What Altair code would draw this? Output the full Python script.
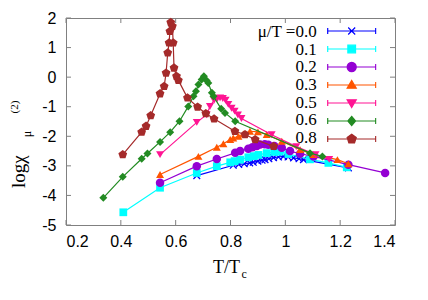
import math
import altair as alt
import pandas as pd

labels = ["μ/T =0.0", "0.1", "0.2", "0.3", "0.5", "0.6", "0.8"]
colors = ["#0000ff", "#00ffff", "#9400d3", "#ff5500", "#ff1493", "#228b22", "#a52a2a"]

t_00 = [0.677, 0.81, 0.83, 0.85, 0.87, 0.883, 0.9, 0.915, 0.926, 0.94, 0.957, 0.975, 0.993, 1.01, 1.03, 1.05, 1.066, 1.23]
v_00 = [-3.33, -2.98, -2.95, -2.93, -2.9, -2.88, -2.84, -2.81, -2.79, -2.76, -2.72, -2.7, -2.68, -2.7, -2.73, -2.76, -2.79, -3.07]

t_01 = [0.409, 0.543, 0.677, 0.75, 0.799, 0.815, 0.835, 0.865, 0.885, 0.902, 0.932, 0.96, 0.98, 1.011, 1.09, 1.157, 1.224]
v_01 = [-4.57, -3.74, -3.24, -3.01, -2.88, -2.84, -2.79, -2.71, -2.67, -2.63, -2.57, -2.53, -2.52, -2.6, -2.78, -2.9, -3.05]

t_02 = [0.543, 0.677, 0.75, 0.817, 0.835, 0.865, 0.88, 0.896, 0.908, 0.925, 0.938, 0.96, 0.987, 1.017, 1.054, 1.103, 1.23, 1.364]
v_02 = [-3.57, -3.01, -2.77, -2.56, -2.5, -2.42, -2.37, -2.33, -2.28, -2.27, -2.29, -2.33, -2.39, -2.5, -2.59, -2.68, -2.96, -3.24]

t_03 = [0.543, 0.683, 0.75, 0.774, 0.799, 0.81, 0.829, 0.847, 0.871, 0.9, 0.932, 0.987, 1.054, 1.103, 1.19, 1.23]
v_03 = [-3.29, -2.68, -2.37, -2.25, -2.11, -2.06, -2.0, -1.92, -1.83, -1.85, -1.94, -2.17, -2.45, -2.62, -2.79, -2.93]

t_05 = [0.543, 0.677, 0.713, 0.725, 0.74, 0.752, 0.762, 0.772, 0.782, 0.792, 0.804, 0.815, 0.827, 0.84, 0.95, 1.04, 1.11, 1.16]
v_05 = [-2.62, -1.53, -1.27, -0.99, -0.78, -0.72, -0.70, -0.72, -0.78, -0.92, -1.05, -1.15, -1.28, -1.40, -1.95, -2.35, -2.62, -2.78]

t_06 = [0.336, 0.407, 0.476, 0.497, 0.543, 0.58, 0.614, 0.646, 0.665, 0.674, 0.683, 0.695, 0.703, 0.713, 0.719, 0.732, 0.738, 0.766, 0.78, 0.817, 1.09, 1.135]
v_06 = [-4.08, -3.37, -2.76, -2.58, -2.19, -1.86, -1.49, -0.99, -0.65, -0.48, -0.25, -0.08, 0.03, -0.11, -0.2, -0.53, -0.65, -1.07, -1.21, -1.49, -2.57, -2.68]

t_08 = [0.407, 0.476, 0.492, 0.509, 0.543, 0.558, 0.565, 0.571, 0.576, 0.579, 0.582, 0.588, 0.591, 0.594, 0.603, 0.61, 0.643, 0.68, 0.71, 0.74, 0.816, 0.853, 0.89, 0.957]
v_08 = [-2.62, -1.86, -1.66, -1.30, -0.56, -0.31, 0.14, 0.82, 1.16, 1.55, 1.85, 1.72, 1.16, 0.31, 0.03, -0.11, -0.70, -1.01, -1.23, -1.41, -1.83, -1.94, -2.11, -2.34]

x_ticks = [0.2, 0.4, 0.6, 0.8, 1.0, 1.2, 1.4]
y_ticks = [2, 1, 0, -1, -2, -3, -4, -5]

series_t = [t_00, t_01, t_02, t_03, t_05, t_06, t_08]
series_v = [v_00, v_01, v_02, v_03, v_05, v_06, v_08]

W, H = 329, 207
FRAME = "#808080"
SANS = "Liberation Sans"
SERIF = "Liberation Serif"

# legend layout (plot-area pixels)
LEG_X = 261.7      # left end of legend sample line
LEG_Y0 = 13.0      # centre of first legend row
LEG_DY = 17.67     # row spacing
LEG_CLIP = 17.1    # legend entry height (Vega adds a little on top)


def pent(r):
    pts = []
    for k in range(5):
        a = math.radians(-90 + 72 * k)
        pts.append(f"{r*math.cos(a):.3f},{r*math.sin(a):.3f}")
    return "M" + "L".join(pts) + "Z"


x_path = "M-1,-1L1,1M-1,1L1,-1"
shapes = [x_path, "square", "circle", "triangle-up", "triangle-down", "diamond", pent(1.0)]
filled = [False, True, True, True, True, True, True]
sizes = [45, 60, 72, 64, 64, 64, 85]

# legend symbols: line with end caps and marker in the middle
line_part = "M-1,0L1,0M-1,-0.125L-1,0.125M1,-0.125L1,0.125"
s = 0.16
r = 0.19
leg_markers = [
    "M-0.146,-0.146L0.146,0.146M-0.146,0.146L0.146,-0.146",
    f"M-{s},-{s}L{s},-{s}L{s},{s}L-{s},{s}Z",
    f"M-{r},0A{r},{r} 0 1,0 {r},0A{r},{r} 0 1,0 -{r},0Z",
    f"M0,-{r}L{r},{r*0.7:.3f}L-{r},{r*0.7:.3f}Z",
    f"M0,{r}L{r},-{r*0.7:.3f}L-{r},-{r*0.7:.3f}Z",
    f"M0,-{r}L{r*0.85:.3f},0L0,{r}L-{r*0.85:.3f},0Z",
    pent(0.2),
]
leg_paths = [line_part + m for m in leg_markers]

xscale = alt.Scale(domain=[0.2, 1.4], nice=False, zero=False)
yscale = alt.Scale(domain=[-5, 2], nice=False, zero=False)
xaxis = alt.Axis(values=x_ticks, labelExpr="'' + datum.value", ticks=False, tickSize=0,
                 domain=False, grid=False, labelFont=SANS, labelFontSize=16,
                 labelColor="black", labelPadding=8, title=None)
yaxis = alt.Axis(values=y_ticks, labelExpr="'' + datum.value", ticks=False, tickSize=0,
                 domain=False, grid=False, labelFont=SANS, labelFontSize=16,
                 labelColor="black", labelPadding=10, title=None)


def X(f):
    return alt.X(f"{f}:Q", scale=xscale, axis=xaxis)


def Y(f):
    return alt.Y(f"{f}:Q", scale=yscale, axis=yaxis)


layers = []
for i in range(7):
    df = pd.DataFrame({"T": series_t[i], "v": series_v[i], "i": list(range(len(series_t[i])))})
    layers.append(
        alt.Chart(df).mark_line(color=colors[i], strokeWidth=1.2).encode(
            x=X("T"), y=Y("v"), order=alt.Order("i:Q"))
    )
    layers.append(
        alt.Chart(df).mark_point(shape=shapes[i], filled=filled[i], size=sizes[i],
                                 color=colors[i], opacity=1, strokeWidth=1.3).encode(
            x=X("T"), y=Y("v"))
    )

# inward ticks on all four sides
xt = pd.DataFrame({"tv": x_ticks})
yt = pd.DataFrame({"tv": y_ticks})
layers.append(alt.Chart(xt).mark_rule(color=FRAME, strokeWidth=1).encode(
    x=X("tv"), y=alt.value(H), y2=alt.value(H - 5)))
layers.append(alt.Chart(xt).mark_rule(color=FRAME, strokeWidth=1).encode(
    x=X("tv"), y=alt.value(0), y2=alt.value(5)))
layers.append(alt.Chart(yt).mark_rule(color=FRAME, strokeWidth=1).encode(
    y=Y("tv"), x=alt.value(0), x2=alt.value(5)))
layers.append(alt.Chart(yt).mark_rule(color=FRAME, strokeWidth=1).encode(
    y=Y("tv"), x=alt.value(W), x2=alt.value(W - 5)))

# legend symbols (from an explicit scale domain); labels drawn as text to their left
leg = alt.Legend(orient="none", legendX=LEG_X - 1, legendY=LEG_Y0 - LEG_CLIP / 2, title=None,
                 labelExpr="''", labelFontSize=1, labelOffset=0,
                 symbolSize=2304, symbolStrokeWidth=1.2,
                 clipHeight=LEG_CLIP, rowPadding=0, padding=0, symbolOffset=0)
leg_df = pd.DataFrame({"series": labels})
layers.append(
    alt.Chart(leg_df).transform_filter("false").mark_point(filled=True, opacity=1).encode(
        shape=alt.Shape("series:N", scale=alt.Scale(domain=labels, range=leg_paths), legend=leg),
        fill=alt.Fill("series:N", scale=alt.Scale(domain=labels, range=colors), legend=leg),
        stroke=alt.Stroke("series:N", scale=alt.Scale(domain=labels, range=colors), legend=leg),
    )
)
one = pd.DataFrame({"a": [0]})
for k, lab in enumerate(labels):
    layers.append(alt.Chart(one).mark_text(text=lab, font=SERIF, fontSize=17, align="right",
                                           baseline="middle", color="black").encode(
        x=alt.value(LEG_X - 11), y=alt.value(LEG_Y0 + k * LEG_DY + 1)))

# axis titles
layers.append(alt.Chart(one).mark_text(text="T/T", font=SERIF, fontSize=18, align="right",
                                       baseline="alphabetic", color="black").encode(
    x=alt.value(174), y=alt.value(255)))
layers.append(alt.Chart(one).mark_text(text="c", font=SERIF, fontSize=12, align="left",
                                       baseline="alphabetic", color="black").encode(
    x=alt.value(175.5), y=alt.value(260)))
layers.append(alt.Chart(one).mark_text(text="logχ", font=SERIF, fontSize=19, align="left",
                                       baseline="alphabetic", angle=270, color="black").encode(
    x=alt.value(-41), y=alt.value(170)))
layers.append(alt.Chart(one).mark_text(text="μ", font=SERIF, fontSize=12, align="center",
                                       baseline="middle", angle=270, color="black").encode(
    x=alt.value(-39), y=alt.value(116)))
layers.append(alt.Chart(one).mark_text(text="(2)", font=SERIF, fontSize=11, align="center",
                                       baseline="middle", angle=270, color="black").encode(
    x=alt.value(-51.5), y=alt.value(89)))

chart = alt.layer(*layers).properties(
    width=W, height=H,
    autosize=alt.AutoSizeParams(type="none"),
    padding={"left": 58, "top": 10, "right": 25, "bottom": 67},
).configure_view(stroke=FRAME, strokeWidth=1)

chart.save("out.html", embed_options={"renderer": "svg", "actions": False})
